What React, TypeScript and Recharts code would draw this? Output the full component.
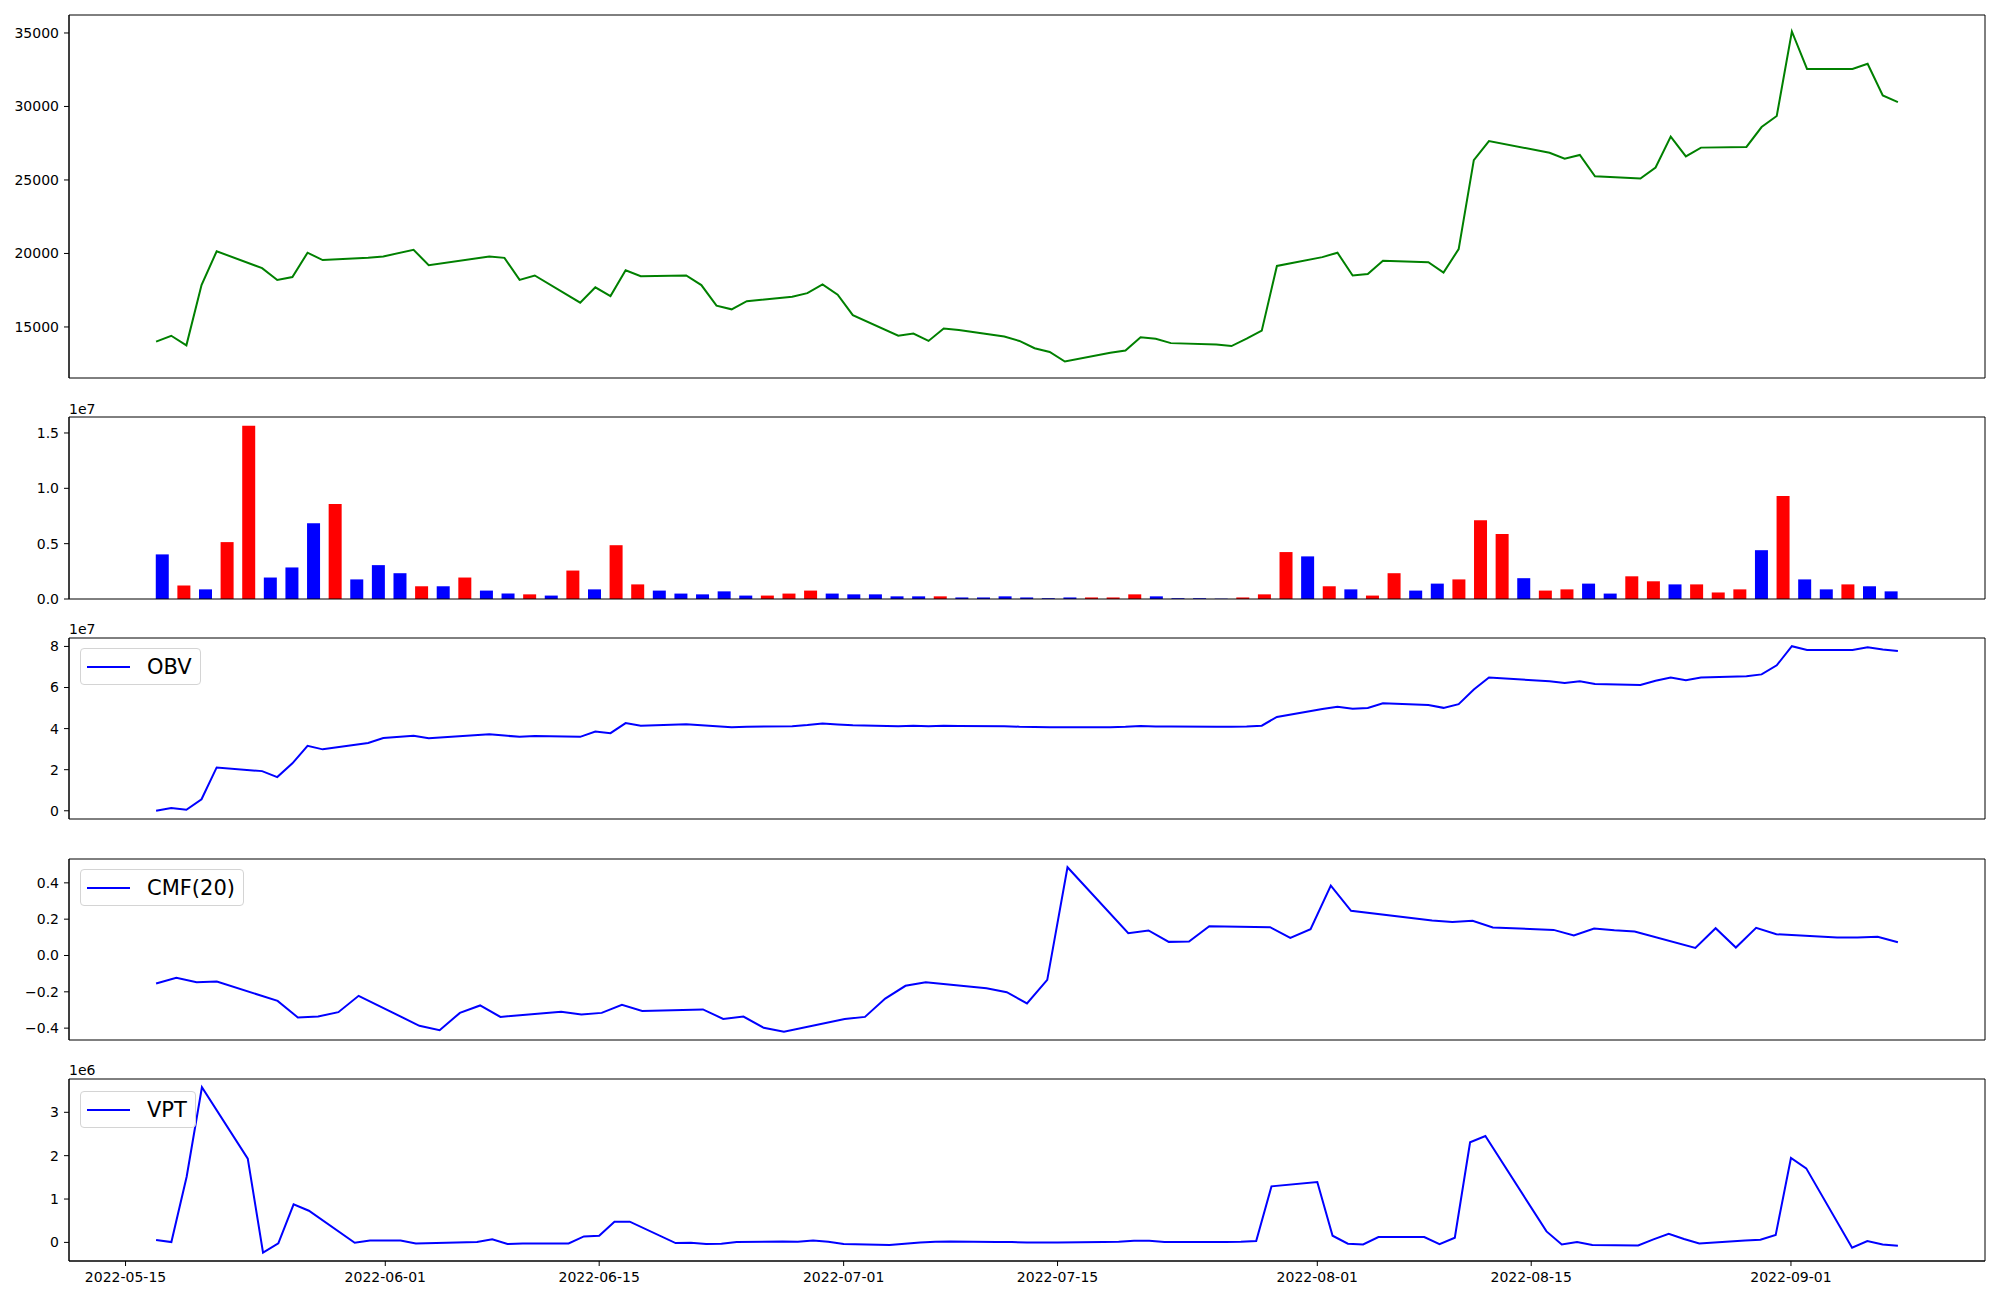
import React from 'react';
import { LineChart, Line, BarChart, Bar, Cell, XAxis, YAxis, ReferenceLine } from 'recharts';

// trading days (81)
const dates = [
  '2022-05-16', '2022-05-17', '2022-05-18', '2022-05-19', '2022-05-20',
  '2022-05-23', '2022-05-24', '2022-05-25', '2022-05-26', '2022-05-27',
  '2022-05-30', '2022-05-31', '2022-06-02', '2022-06-03',
  '2022-06-07', '2022-06-08', '2022-06-09', '2022-06-10',
  '2022-06-13', '2022-06-14', '2022-06-15', '2022-06-16', '2022-06-17',
  '2022-06-20', '2022-06-21', '2022-06-22', '2022-06-23', '2022-06-24',
  '2022-06-27', '2022-06-28', '2022-06-29', '2022-06-30', '2022-07-01',
  '2022-07-04', '2022-07-05', '2022-07-06', '2022-07-07', '2022-07-08',
  '2022-07-11', '2022-07-12', '2022-07-13', '2022-07-14', '2022-07-15',
  '2022-07-18', '2022-07-19', '2022-07-20', '2022-07-21', '2022-07-22',
  '2022-07-25', '2022-07-26', '2022-07-27', '2022-07-28', '2022-07-29',
  '2022-08-01', '2022-08-02', '2022-08-03', '2022-08-04', '2022-08-05',
  '2022-08-08', '2022-08-09', '2022-08-10', '2022-08-11', '2022-08-12',
  '2022-08-16', '2022-08-17', '2022-08-18', '2022-08-19',
  '2022-08-22', '2022-08-23', '2022-08-24', '2022-08-25', '2022-08-26',
  '2022-08-29', '2022-08-30', '2022-08-31', '2022-09-01', '2022-09-02',
  '2022-09-05', '2022-09-06', '2022-09-07', '2022-09-08',
];

const closePrice = [
  14000, 14400, 13750, 17850, 20150,
  19000, 18200, 18400, 20050, 19550,
  19700, 19800, 20250, 19200,
  19800, 19700, 18200, 18500,
  16650, 17700, 17100, 18850, 18450,
  18500, 17850, 16450, 16200, 16750,
  17050, 17300, 17900, 17200, 15800,
  14400, 14550, 14050, 14900, 14800,
  14350, 14050, 13550, 13300, 12650,
  13250, 13400, 14300, 14200, 13900,
  13800, 13700, 14200, 14750, 19150,
  19750, 20050, 18500, 18600, 19500,
  19400, 18700, 20300, 26350, 27650,
  26850, 26450, 26700, 25250,
  25100, 25850, 27950, 26600, 27200,
  27250, 28600, 29350, 35100, 32550,
  32550, 32900, 30750, 30300,
];

const volume = [
  4030000, 1220000, 870000, 5140000, 15660000,
  1940000, 2850000, 6840000, 8580000, 1770000,
  3060000, 2330000, 1150000, 1150000,
  1940000, 760000, 490000, 420000,
  310000, 2570000, 870000, 4860000, 1320000,
  760000, 490000, 420000, 690000, 310000,
  310000, 490000, 760000, 490000, 420000,
  420000, 240000, 240000, 240000, 140000,
  140000, 240000, 140000, 70000, 140000,
  140000, 140000, 420000, 240000, 70000,
  70000, 30000, 140000, 420000, 4240000,
  3850000, 1150000, 870000, 310000, 2330000,
  760000, 1390000, 1770000, 7120000, 5870000,
  1880000, 760000, 870000, 1390000,
  490000, 2050000, 1600000, 1320000, 1320000,
  590000, 870000, 4410000, 9310000, 1770000,
  870000, 1320000, 1150000, 690000,
];

// 1 = rising candle (red), 0 = falling candle (blue)
const volumeUp = [
  0, 1, 0, 1, 1,
  0, 0, 0, 1, 0,
  0, 0, 1, 0,
  1, 0, 0, 1,
  0, 1, 0, 1, 1,
  0, 0, 0, 0, 0,
  1, 1, 1, 0, 0,
  0, 0, 0, 1, 0,
  0, 0, 0, 0, 0,
  1, 1, 1, 0, 0,
  0, 0, 1, 1, 1,
  0, 1, 0, 1, 1,
  0, 0, 1, 1, 1,
  0, 1, 1, 0,
  0, 1, 1, 0, 1,
  1, 1, 0, 1, 0,
  0, 1, 0, 0,
];

const obv = [
  0, 1300000, 500000, 5600000, 21100000,
  19300000, 16400000, 23100000, 31600000, 29900000,
  33000000, 35400000, 36500000, 35300000,
  37300000, 36600000, 36000000, 36400000,
  36000000, 38600000, 37800000, 42700000, 41400000,
  42100000, 41600000, 41200000, 40600000, 40900000,
  41200000, 41700000, 42500000, 42000000, 41600000,
  41200000, 41400000, 41200000, 41400000, 41300000,
  41200000, 40900000, 40800000, 40700000, 40600000,
  40700000, 40900000, 41300000, 41000000, 41000000,
  40900000, 40900000, 41000000, 41400000, 45700000,
  49500000, 50600000, 49700000, 50000000, 52300000,
  51500000, 50100000, 51900000, 59000000, 64900000,
  63000000, 62200000, 63100000, 61700000,
  61200000, 63300000, 64900000, 63600000, 64900000,
  65500000, 66400000, 70800000, 80100000, 78300000,
  78300000, 79600000, 78500000, 77800000,
];

// CMF(20) starts on the 20th trading day
const cmf20 = [
  -0.154, -0.123, -0.147, -0.143,
  -0.25, -0.341, -0.336, -0.312, -0.222,
  -0.387, -0.411, -0.316, -0.275, -0.338,
  -0.31, -0.325, -0.316, -0.272, -0.305,
  -0.297, -0.349, -0.336, -0.398, -0.42,
  -0.35, -0.338, -0.237, -0.167, -0.147,
  -0.18, -0.202, -0.264, -0.134, 0.486,
  0.123, 0.138, 0.075, 0.077, 0.161,
  0.156, 0.097, 0.145, 0.385, 0.246,
  0.193, 0.185, 0.191, 0.154,
  0.141, 0.11, 0.149, 0.139, 0.132,
  0.042, 0.15, 0.044, 0.152, 0.117,
  0.099, 0.099, 0.103, 0.073,
];

// VPT starts on the 2nd trading day
const vpt = [
  54000, 8000, 1515000, 3577000,
  1931000, -238000, -23000, 877000, 731000,
  -8000, 46000, 46000, -23000,
  8000, 70000, -38000, -23000,
  -23000, 138000, 154000, 477000, 477000,
  -15000, -8000, -38000, -31000, 8000,
  23000, 15000, 46000, 15000, -38000,
  -62000, -30000, 0, 15000, 23000,
  8000, 8000, 0, 0, 0,
  8000, 15000, 38000, 38000, 8000,
  8000, 8000, 15000, 31000, 1292000,
  1392000, 154000, -31000, -46000, 123000,
  123000, -38000, 108000, 2308000, 2454000,
  254000, -46000, 8000, -62000,
  -69000, 69000, 200000, 77000, -23000,
  46000, 62000, 169000, 1946000, 1708000,
  -123000, 31000, -46000, -77000,
];

const dateTicks = ['2022-05-15', '2022-06-01', '2022-06-15', '2022-07-01', '2022-07-15', '2022-08-01', '2022-08-15', '2022-09-01'];
const priceTicks = [15000, 20000, 25000, 30000, 35000];
const volumeTicks = [0, 5000000, 10000000, 15000000];
const obvTicks = [0, 20000000, 40000000, 60000000, 80000000];
const cmfTicks = [-0.4, -0.2, 0, 0.2, 0.4];
const vptTicks = [0, 1000000, 2000000, 3000000];

// layout
const CHART_W = 2000;
const PLOT_LEFT = 69;
const PLOT_RIGHT = 1985;
const Y_AXIS_W = 60;
const PAD = 10;
const FONT = '"DejaVu Sans", sans-serif';
const GREEN = '#008000';
const BLUE = '#0000ff';
const RED = '#ff0000';

const DAY = 86400000;
const toDay = (s: string) => Date.parse(s + 'T00:00:00Z') / DAY;
const fmtDay = (d: number) => new Date(Math.round(d) * DAY).toISOString().slice(0, 10);
const minus = (s: string) => s.replace('-', '\u2212');

const pad = (lo: number, hi: number): [number, number] => [lo - 0.05 * (hi - lo), hi + 0.05 * (hi - lo)];
const extent = (a: number[]) => pad(Math.min(...a), Math.max(...a));

const tickStyle = { fill: '#000', fontSize: 14, fontFamily: FONT };
const black = { stroke: '#000', strokeWidth: 1 };

function box(frame: [number, number], xAxisH: number) {
  const [top, bottom] = frame;
  return {
    style: { position: 'absolute' as const, left: 0, top: top - PAD },
    width: CHART_W,
    height: bottom - top + PAD * 2 + xAxisH,
    margin: { top: PAD, right: CHART_W - PLOT_RIGHT, bottom: PAD, left: PLOT_LEFT - Y_AXIS_W },
  };
}

// axes spines drawn on the domain edges
function spines(x: [number, number], y: [number, number]) {
  return [
    <ReferenceLine key="t" y={y[1]} stroke="#000" strokeWidth={1} />,
    <ReferenceLine key="b" y={y[0]} stroke="#000" strokeWidth={1} />,
    <ReferenceLine key="l" x={x[0]} stroke="#000" strokeWidth={1} />,
    <ReferenceLine key="r" x={x[1]} stroke="#000" strokeWidth={1} />,
  ];
}

function LegendBox({ top, label }: { top: number; label: string }) {
  return (
    <div
      style={{
        position: 'absolute',
        left: 80,
        top,
        height: 37,
        boxSizing: 'border-box',
        border: '1px solid #d4d4d4',
        borderRadius: 4,
        background: 'rgba(255,255,255,0.8)',
        display: 'flex',
        alignItems: 'center',
        padding: '0 8px 0 6px',
        fontFamily: FONT,
        fontSize: 21,
        color: '#000',
      }}
    >
      <span style={{ display: 'inline-block', width: 43, height: 2, background: BLUE, marginRight: 17 }} />
      <span>{label}</span>
    </div>
  );
}

function OffsetText({ top, text }: { top: number; text: string }) {
  return (
    <div style={{ position: 'absolute', left: PLOT_LEFT, top, fontFamily: FONT, fontSize: 14, lineHeight: '14px' }}>
      {text}
    </div>
  );
}

function SeriesPanel({
  frame, data, xDomain, yDomain, yTicks, yFmt, color, showDates,
}: {
  frame: [number, number];
  data: { t: number; y: number }[];
  xDomain: [number, number];
  yDomain: [number, number];
  yTicks: number[];
  yFmt: (v: number) => string;
  color: string;
  showDates?: boolean;
}) {
  const b = box(frame, showDates ? 30 : 0);
  return (
    <div style={b.style}>
      <LineChart width={b.width} height={b.height} data={data} margin={b.margin}>
        <XAxis
          dataKey="t"
          type="number"
          domain={xDomain}
          allowDataOverflow
          ticks={showDates ? dateTicks.map(toDay) : []}
          interval={0}
          tickFormatter={fmtDay}
          tick={showDates ? tickStyle : false}
          tickLine={showDates ? black : false}
          tickSize={5}
          tickMargin={6}
          axisLine={black}
          height={showDates ? 30 : 0}
        />
        <YAxis
          type="number"
          domain={yDomain}
          allowDataOverflow
          ticks={yTicks}
          interval={0}
          tickFormatter={yFmt}
          tick={tickStyle}
          tickLine={black}
          tickSize={5}
          tickMargin={5}
          axisLine={black}
          width={Y_AXIS_W}
        />
        {spines(xDomain, yDomain)}
        <Line type="linear" dataKey="y" stroke={color} strokeWidth={2} dot={false} isAnimationActive={false} />
      </LineChart>
    </div>
  );
}

function VolumePanel() {
  const data = volume.map((v, i) => ({ i, v }));
  const barW = 0.6;
  const xDomain = pad(-barW / 2, volume.length - 1 + barW / 2);
  const yDomain: [number, number] = [0, Math.max(...volume) * 1.05];
  const b = box([417, 599], 0);
  const barPx = (barW * (PLOT_RIGHT - PLOT_LEFT)) / (xDomain[1] - xDomain[0]);
  return (
    <div style={b.style}>
      <BarChart width={b.width} height={b.height} data={data} margin={b.margin}>
        <XAxis dataKey="i" type="number" domain={xDomain} allowDataOverflow ticks={[]} tick={false} tickLine={false} axisLine={black} height={0} />
        <YAxis
          type="number"
          domain={yDomain}
          allowDataOverflow
          ticks={volumeTicks}
          interval={0}
          tickFormatter={(v: number) => (v / 1e7).toFixed(1)}
          tick={tickStyle}
          tickLine={black}
          tickSize={5}
          tickMargin={5}
          axisLine={black}
          width={Y_AXIS_W}
        />
        <Bar dataKey="v" barSize={Math.round(barPx)} isAnimationActive={false}>
          {data.map((d) => (
            <Cell key={d.i} fill={volumeUp[d.i] ? RED : BLUE} />
          ))}
        </Bar>
        {spines(xDomain, yDomain)}
      </BarChart>
    </div>
  );
}

export default function App() {
  const days = dates.map(toDay);
  const priceData = closePrice.map((y, i) => ({ t: days[i], y }));
  const obvData = obv.map((y, i) => ({ t: days[i], y }));
  const cmfStart = dates.length - cmf20.length;
  const cmfData = cmf20.map((y, k) => ({ t: days[k + cmfStart], y }));
  const vptStart = dates.length - vpt.length;
  const vptData = vpt.map((y, k) => ({ t: days[k + vptStart], y }));
  const last = days[days.length - 1];

  return (
    <div style={{ position: 'absolute', left: 0, top: 0, width: 2000, height: 1300, background: '#fff', overflow: 'hidden' }}>
      <SeriesPanel
        frame={[15, 378]}
        data={priceData}
        xDomain={pad(days[0], last)}
        yDomain={extent(closePrice)}
        yTicks={priceTicks}
        yFmt={(v) => String(v)}
        color={GREEN}
      />
      <OffsetText top={402} text="1e7" />
      <VolumePanel />
      <OffsetText top={622} text="1e7" />
      <SeriesPanel
        frame={[638, 819]}
        data={obvData}
        xDomain={pad(days[0], last)}
        yDomain={extent(obv)}
        yTicks={obvTicks}
        yFmt={(v) => String(Math.round(v / 1e7))}
        color={BLUE}
      />
      <LegendBox top={648} label="OBV" />
      <SeriesPanel
        frame={[859, 1040]}
        data={cmfData}
        xDomain={pad(days[cmfStart], last)}
        yDomain={extent(cmf20)}
        yTicks={cmfTicks}
        yFmt={(v) => minus(v.toFixed(1))}
        color={BLUE}
      />
      <LegendBox top={869} label="CMF(20)" />
      <OffsetText top={1063} text="1e6" />
      <SeriesPanel
        frame={[1079, 1261]}
        data={vptData}
        xDomain={pad(days[vptStart], last)}
        yDomain={extent(vpt)}
        yTicks={vptTicks}
        yFmt={(v) => String(Math.round(v / 1e6))}
        color={BLUE}
        showDates
      />
      <LegendBox top={1091} label="VPT" />
    </div>
  );
}
